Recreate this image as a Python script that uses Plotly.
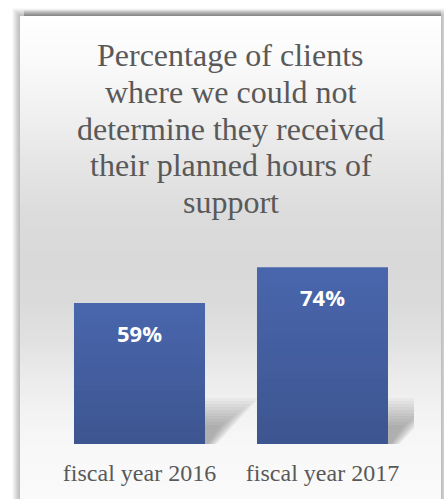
import plotly.graph_objects as go

# ---- data ----
categories = ["fiscal year 2016", "fiscal year 2017"]
values = [59, 74]
value_labels = ["59%", "74%"]
title_lines = [
    "Percentage of clients",
    "where we could not",
    "determine they received",
    "their planned hours of",
    "support",
]

W, H = 444, 499
BARGAP = 0.284
Y_MAX = 100
PLOT_LEFT, PLOT_RIGHT = 48, 414
PLOT_TOP, PLOT_BOTTOM = 205, 444  # pixel rows of y-domain


def px_x(x):
    return x / W


def px_y(y):
    return (H - y) / H


fig = go.Figure()

fig.add_trace(go.Bar(
    x=categories,
    y=values,
    marker=dict(color="#4a67ae", line=dict(width=0)),
    hoverinfo="skip",
))

shapes = []

# panel shadow
for k in range(1, 9):
    a = 0.035 if k < 8 else 0.02
    shapes.append(dict(
        type="rect", xref="paper", yref="paper", layer="below",
        x0=px_x(20 - k), x1=px_x(441 + min(k, 3)),
        y0=0, y1=px_y(16 - k),
        fillcolor=f"rgba(0,0,0,{a})", line=dict(width=0),
    ))
for k in range(1, 7):
    shapes.append(dict(
        type="rect", xref="paper", yref="paper", layer="below",
        x0=px_x(24), x1=px_x(441),
        y0=px_y(16), y1=px_y(16 - k),
        fillcolor="rgba(0,0,0,0.05)", line=dict(width=0),
    ))

# panel gradient background (style only)
stops = [(16, 255), (60, 250), (110, 241), (160, 230), (220, 219), (260, 217),
         (300, 218), (340, 225), (380, 236), (420, 244), (450, 248), (499, 250)]


def gray_at(y):
    for (y0, g0), (y1, g1) in zip(stops[:-1], stops[1:]):
        if y0 <= y <= y1:
            t = (y - y0) / (y1 - y0)
            return g0 + (g1 - g0) * t
    return stops[-1][1]


step = 3
y = 16
while y < H:
    g = int(round(gray_at(y + step / 2)))
    shapes.append(dict(
        type="rect", xref="paper", yref="paper", layer="below",
        x0=px_x(20), x1=px_x(441),
        y0=px_y(min(y + step + 0.5, H)), y1=px_y(y),
        fillcolor=f"rgb({g},{g},{g})", line=dict(width=0),
    ))
    y += step

# soft cast shadow to the right of each bar (decoration)
cat_px = (PLOT_RIGHT - PLOT_LEFT) / len(categories)
half_w = (1 - BARGAP) / 2
ux = 1 / cat_px
uy = Y_MAX / (PLOT_BOTTOM - PLOT_TOP)
for i in range(len(categories)):
    xr = i + half_w
    for k in range(10):
        dx_top = 54 - k * 4.2
        h_px = 46 - k * 3.0
        dx_bot = 12 - k * 1.0
        path = (f"M {xr},0 L {xr},{h_px * uy} L {xr + dx_top * ux},{h_px * uy} "
                f"L {xr + dx_bot * ux},0 Z")
        shapes.append(dict(
            type="path", xref="x", yref="y", layer="below", path=path,
            fillcolor="rgba(0,0,0,0.03)", line=dict(width=0),
        ))

# vertical shading over each bar (top lighter, bottom darker)
N = 24
for i, v in enumerate(values):
    for j in range(N):
        a = 0.17 * (1 - (j + 0.5) / N)
        shapes.append(dict(
            type="rect", xref="x", yref="y", layer="above",
            x0=i - half_w, x1=i + half_w,
            y0=v * j / N, y1=v * (j + 1) / N,
            fillcolor=f"rgba(0,0,0,{a:.4f})", line=dict(width=0),
        ))

annotations = []
title_centers = [55, 92, 128.5, 165, 202]
for line, yc in zip(title_lines, title_centers):
    annotations.append(dict(
        text=line, xref="paper", yref="paper", x=px_x(230.5), y=px_y(yc),
        xanchor="center", yanchor="middle", showarrow=False,
        font=dict(family="Liberation Serif, Times New Roman, serif",
                  size=32, color="#595959"),
    ))

for c, v, lab in zip(categories, values, value_labels):
    annotations.append(dict(
        text=lab, x=c, y=v, xref="x", yref="y", yshift=-30,
        xanchor="center", yanchor="middle", showarrow=False,
        font=dict(family="Open Sans", size=22, color="white", weight="bold"),
    ))

fig.update_layout(
    width=W, height=H,
    margin=dict(l=0, r=0, t=0, b=0),
    paper_bgcolor="white",
    plot_bgcolor="rgba(0,0,0,0)",
    showlegend=False,
    bargap=BARGAP,
    shapes=shapes,
    annotations=annotations,
    xaxis=dict(
        type="category", domain=[px_x(PLOT_LEFT), px_x(PLOT_RIGHT)],
        range=[-0.5, len(categories) - 0.5], autorange=False,
        showgrid=False, zeroline=False, showline=False, ticks="",
        tickfont=dict(family="Liberation Serif, Times New Roman, serif",
                      size=24, color="#595959"),
        ticklabelstandoff=12,
        automargin=False, fixedrange=True,
    ),
    yaxis=dict(
        range=[0, Y_MAX], autorange=False,
        domain=[px_y(PLOT_BOTTOM), px_y(PLOT_TOP)],
        visible=False, showgrid=False, zeroline=False,
        automargin=False, fixedrange=True,
    ),
)

fig.write_html(
    "out.html",
    config={"displayModeBar": False},
    post_script="document.body.style.margin='0';document.body.style.overflow='hidden';",
)
